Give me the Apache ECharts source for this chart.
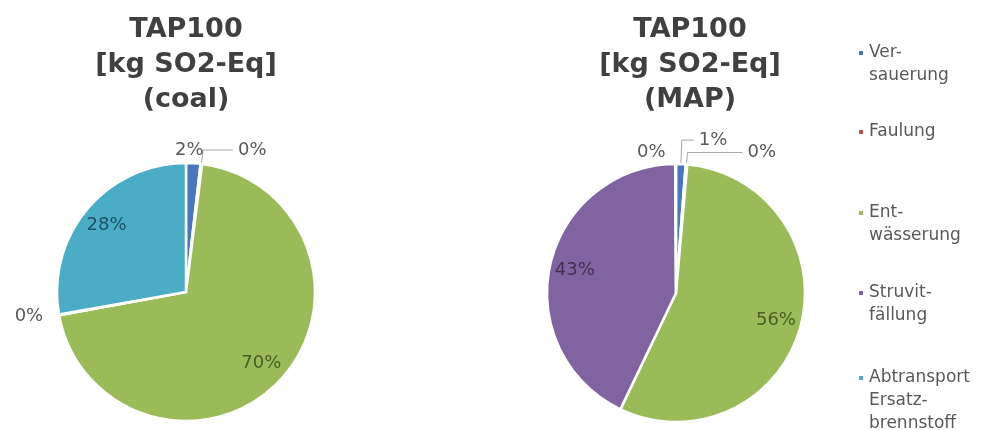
<!DOCTYPE html>
<html>
<head>
<meta charset="utf-8">
<script src="https://cdn.jsdelivr.net/npm/echarts@6/dist/echarts.min.js"></script>
<style>
  html, body { margin: 0; padding: 0; background: #ffffff; }
  #chart { width: 984px; height: 430px; }
</style>
</head>
<body>
<div id="chart"></div>
<script>
// ---- data ----
const categories = ['Versauerung', 'Faulung', 'Entwässerung', 'Struvitfällung', 'Abtransport Ersatzbrennstoff'];
const legendLabels = ['Ver-\nsauerung', 'Faulung', 'Ent-\nwässerung', 'Struvit-\nfällung', 'Abtransport\nErsatz-\nbrennstoff'];
const coalValues = [1.8, 0.2, 70.1, 0.1, 27.8];   // %
const mapValues = [1.2, 0.2, 55.7, 42.8, 0.1];    // %
const pieTitles = ['TAP100\n[kg SO2-Eq]\n(coal)', 'TAP100\n[kg SO2-Eq]\n(MAP)'];

// ---- styles ----
const colors = ['#4A76C0', '#C0504D', '#9BBB59', '#8064A2', '#4BACC6'];
const insideTextColors = ['#1F3A63', '#632523', '#4A5E24', '#3F3151', '#1D5466'];
const FONT = 'DejaVu Sans';
const R = 129;
const centers = [[186, 292], [676, 293]];
const titleX = [186, 690];

// outside-label tuning per pie (label line lengths, nudges)
const outsideCfg = [
  { 0: { L: 13, L2: 0, line: false, dx: -24 }, 1: { L: 14, L2: 30, line: true }, 3: { L: 8, L2: 3, line: false } },
  { 0: { L: 24, L2: 12, line: true }, 1: { L: 12, L2: 55, line: true }, 4: { L: 12, L2: 5, line: false } }
];

const pct = p => Math.round(p.percent) + '%';

function mainSeries(values, k) {
  return {
    type: 'pie',
    center: centers[k],
    radius: [0, R],
    startAngle: 90,
    clockwise: true,
    avoidLabelOverlap: false,
    emphasis: { disabled: true },
    itemStyle: { borderColor: '#ffffff', borderWidth: 2.5 },
    labelLayout: function (params) {
      const c = outsideCfg[k][params.dataIndex];
      if (c && c.dx) return { dx: c.dx };
    },
    data: values.map((v, i) => {
      const c = outsideCfg[k][i];
      return {
        name: categories[i],
        value: v,
        itemStyle: { color: colors[i] },
        label: c ? {
          show: true, position: 'outside', formatter: pct,
          color: '#595959', fontFamily: FONT, fontSize: 18, distanceToLabelLine: 5
        } : { show: false },
        labelLine: c ? {
          show: c.line, length: c.L, length2: c.L2,
          lineStyle: { color: '#A6A6A6', width: 1 }
        } : { show: false }
      };
    })
  };
}

function labelRing(values, k) {
  return {
    type: 'pie',
    center: centers[k],
    radius: [R * 0.56, R],
    startAngle: 90,
    clockwise: true,
    silent: true,
    avoidLabelOverlap: false,
    emphasis: { disabled: true },
    itemStyle: { color: 'rgba(0,0,0,0)' },
    labelLine: { show: false },
    data: values.map((v, i) => ({
      name: categories[i],
      value: v,
      itemStyle: { color: 'rgba(0,0,0,0)' },
      label: outsideCfg[k][i] ? { show: false } : {
        show: true, position: 'inside', formatter: pct,
        color: insideTextColors[i], fontFamily: FONT, fontSize: 18
      }
    }))
  };
}

const legendTops = [18.5, 120.5, 178.5, 258.5, 320.5];
const LH = 23;

const option = {
  backgroundColor: '#ffffff',
  animation: false,
  color: colors,
  title: pieTitles.map((t, k) => ({
    text: t,
    left: titleX[k],
    top: 12,
    padding: 0,
    textAlign: 'center',
    textStyle: { fontFamily: FONT, fontSize: 27, fontWeight: 'bold', color: '#404040', lineHeight: 35 }
  })),
  legend: legendLabels.map((lab, i) => {
    const n = lab.split('\n').length;
    // pad with empty leading lines so the marker sits beside the first text line
    const txt = '\n'.repeat(n - 1) + lab;
    return {
      data: [categories[i]],
      orient: 'vertical',
      left: 857,
      top: legendTops[i],
      padding: 0,
      icon: 'rect',
      itemWidth: 6,
      itemHeight: 6,
      selectedMode: false,
      formatter: () => txt,
      textStyle: { fontFamily: FONT, fontSize: 17, color: '#595959', lineHeight: LH }
    };
  }),
  series: [
    mainSeries(coalValues, 0),
    mainSeries(mapValues, 1),
    labelRing(coalValues, 0),
    labelRing(mapValues, 1)
  ]
};

const chart = echarts.init(document.getElementById('chart'), null, { renderer: 'canvas' });
chart.setOption(option);
</script>
</body>
</html>
